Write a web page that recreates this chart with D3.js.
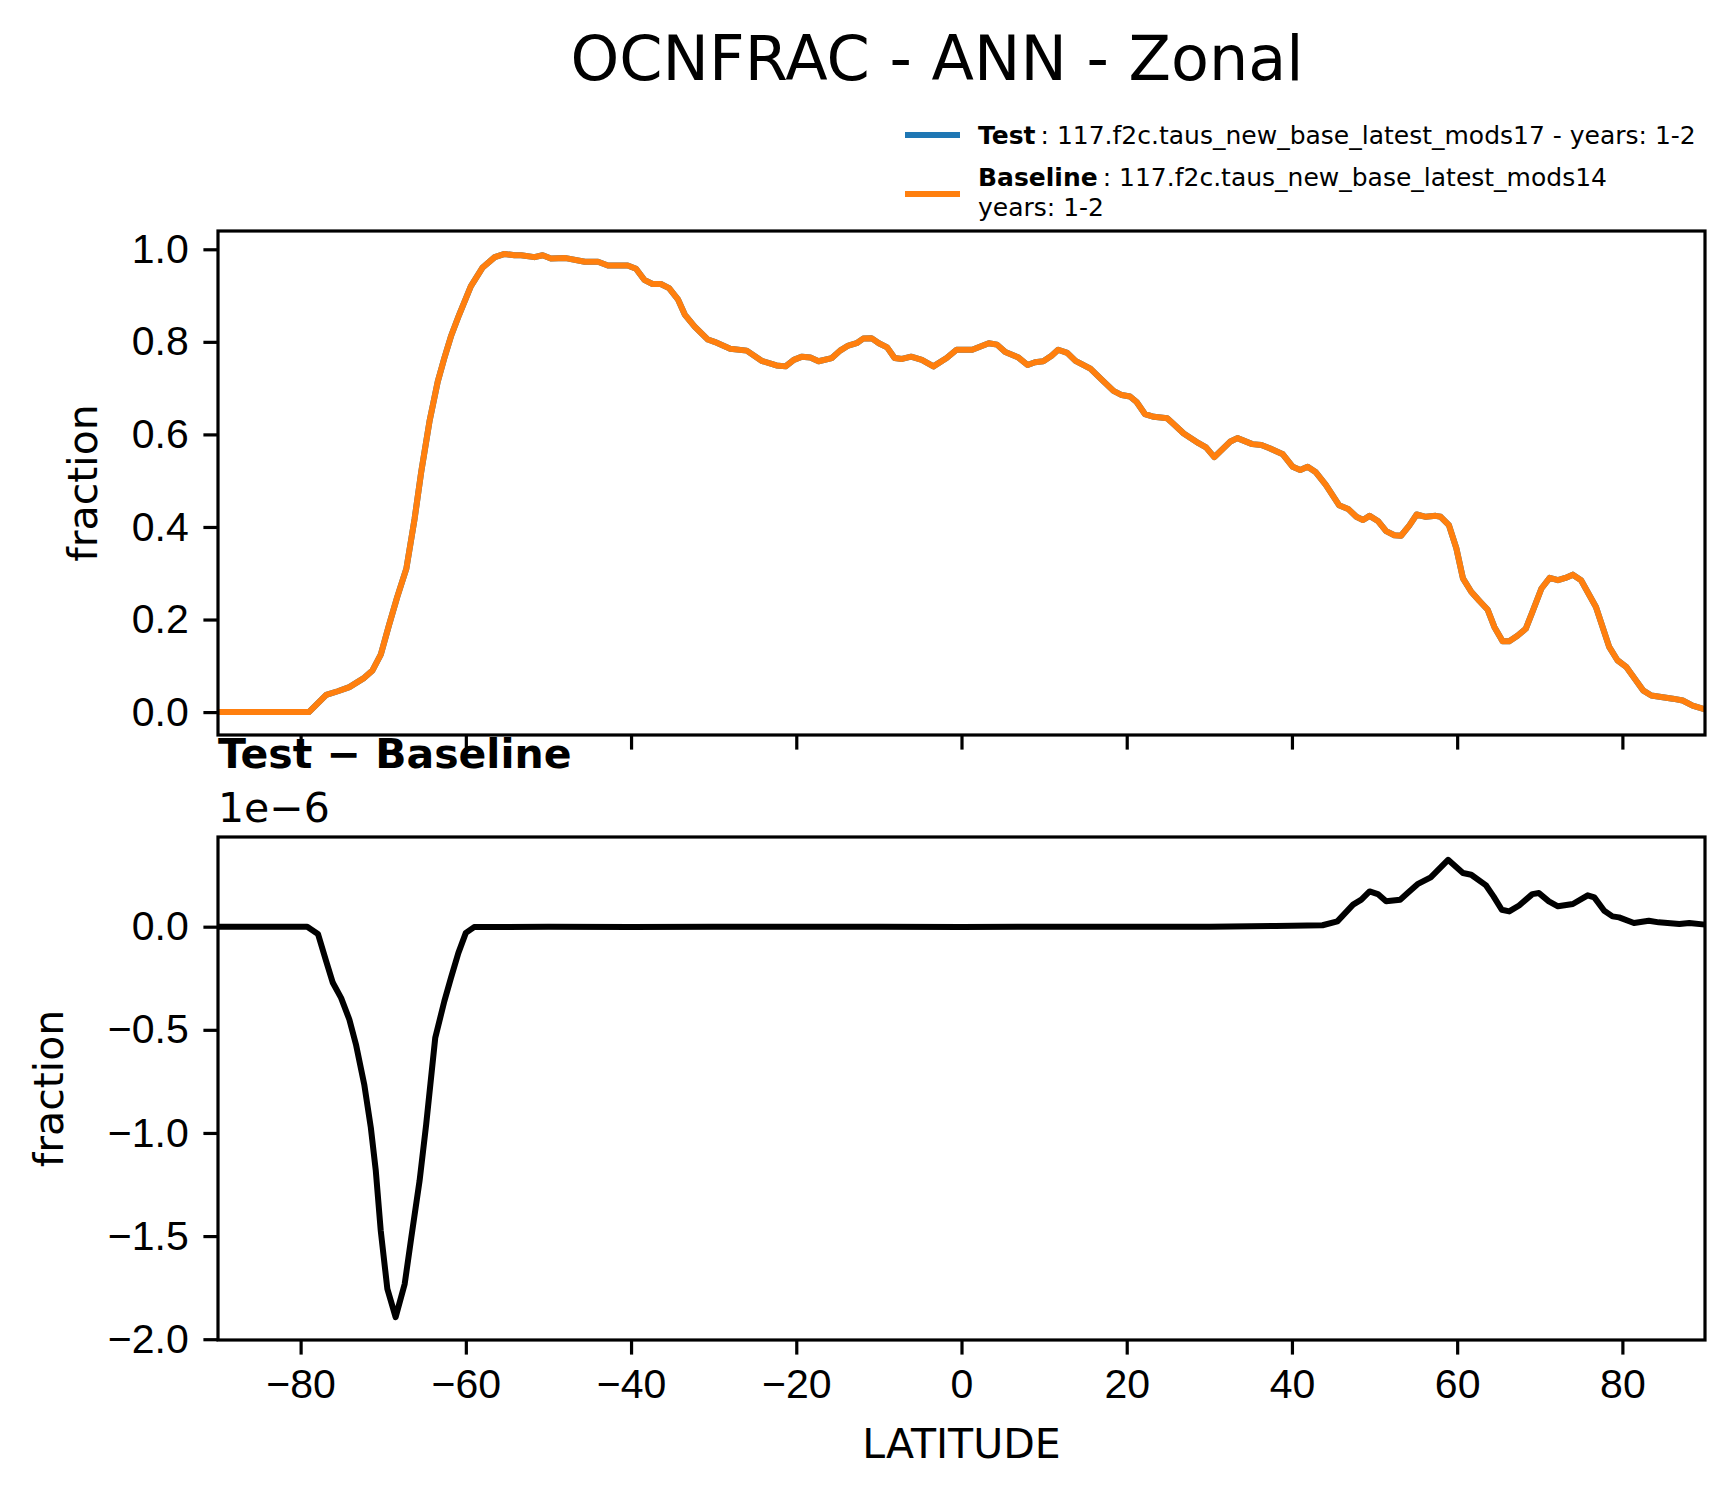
<!DOCTYPE html>
<html>
<head>
<meta charset="UTF-8">
<title>OCNFRAC - ANN - Zonal</title>
<script src="https://cdn.jsdelivr.net/npm/d3@7"></script>
<style>
  body { margin: 0; background: #fff; }
  svg { display: block; font-family: 'DejaVu Sans', sans-serif; }
  .frame { fill: none; stroke: #000; stroke-width: 3.2; }
  .tick line { stroke: #000; stroke-width: 3.2; }
  .tick text { font-size: 41px; fill: #000; }
</style>
</head>
<body>
<svg id="chart" width="1734" height="1496"></svg>
<script>
// zonal mean ocean fraction (test and baseline are the same curve)
const latTop = [-90, -79, -76.9, -75.5, -74.1, -72.3, -71.3, -70.3, -69.3, -68.3, -67.2, -66.2, -65.4, -64.4, -63.4, -62.6, -61.8, -60.8, -59.4, -58.0,
  -56.5, -55.3, -54.1, -53.3, -51.7, -50.7, -49.7, -47.9, -45.6, -44.0, -42.8, -40.4, -39.4, -38.4, -37.4, -36.4, -35.4, -34.3, -33.5, -32.3,
  -30.7, -29.9, -28.0, -26.0, -24.2, -22.4, -21.3, -20.3, -19.3, -18.3, -17.3, -15.7, -14.7, -13.7, -12.7, -11.9, -10.9, -10.0, -9.0, -8.1,
  -7.2, -6.1, -4.8, -3.4, -1.8, -0.6, 1.3, 3.3, 4.3, 5.3, 6.9, 8.0, 8.9, 9.9, 10.9, 11.7, 12.8, 13.8, 15.6, 17.0,
  18.4, 19.4, 20.4, 21.2, 22.2, 23.3, 24.9, 25.7, 26.9, 28.7, 29.6, 30.6, 32.5, 33.4, 35.2, 36.3, 37.3, 38.9, 40.1, 41.0,
  41.9, 42.9, 44.1, 45.7, 46.8, 47.8, 48.6, 49.4, 50.4, 51.4, 52.4, 53.2, 54.2, 55.1, 56.2, 57.4, 58.0, 59.0, 59.9, 60.7,
  61.7, 62.7, 63.7, 64.5, 65.5, 66.3, 67.3, 68.3, 69.1, 70.2, 71.2, 72.2, 73.1, 74.0, 75.0, 76.8, 78.4, 79.4, 80.5, 82.5,
  83.5, 86.1, 87.3, 88.5, 90];
const baselineVals = [0, 0, 0.037, 0.045, 0.054, 0.074, 0.090, 0.124, 0.188, 0.249, 0.310, 0.418, 0.519, 0.628, 0.714, 0.765, 0.812, 0.859, 0.920, 0.960,
  0.983, 0.990, 0.987, 0.987, 0.983, 0.987, 0.980, 0.981, 0.973, 0.973, 0.965, 0.965, 0.958, 0.934, 0.925, 0.925, 0.916, 0.891, 0.859, 0.833,
  0.805, 0.800, 0.785, 0.781, 0.759, 0.749, 0.747, 0.761, 0.768, 0.766, 0.758, 0.765, 0.781, 0.792, 0.797, 0.807, 0.808, 0.797, 0.788, 0.765,
  0.763, 0.768, 0.761, 0.747, 0.765, 0.783, 0.783, 0.797, 0.794, 0.778, 0.766, 0.750, 0.756, 0.758, 0.770, 0.783, 0.776, 0.759, 0.742, 0.718,
  0.694, 0.685, 0.682, 0.670, 0.644, 0.638, 0.635, 0.622, 0.602, 0.581, 0.572, 0.551, 0.584, 0.592, 0.579, 0.577, 0.570, 0.557, 0.530, 0.523,
  0.530, 0.518, 0.491, 0.447, 0.439, 0.422, 0.415, 0.424, 0.413, 0.391, 0.382, 0.381, 0.403, 0.427, 0.422, 0.424, 0.422, 0.404, 0.354, 0.289,
  0.260, 0.240, 0.221, 0.184, 0.153, 0.153, 0.165, 0.180, 0.216, 0.267, 0.290, 0.285, 0.290, 0.297, 0.285, 0.227, 0.141, 0.112, 0.097, 0.047,
  0.036, 0.029, 0.025, 0.014, 0.006];
const testVals = baselineVals.slice();

// test - baseline, in units of 1e-6
const latDiff = [-90, -79.2, -77.9, -76.9, -76.1, -75.1, -74.1, -73.3, -72.3, -71.5, -70.9, -70.3, -69.5, -68.5, -67.4, -66.6, -65.6, -64.8, -63.7, -62.6,
  -61.8, -60.9, -60.0, -59.0, -50, -40, -30, -20, -10, 0, 10, 20, 30, 38, 40, 43.7, 45.5, 47.4, 48.4, 49.4,
  50.4, 51.4, 53.1, 54.0, 55.2, 56.8, 58.9, 60.7, 61.7, 63.5, 64.4, 65.4, 66.3, 67.5, 69.1, 69.9, 71.1, 72.2, 74.0, 75.8,
  76.6, 77.8, 78.8, 79.6, 81.4, 83.2, 84.4, 86.9, 88.1, 90];
const diffVals = [0, 0, -0.035, -0.168, -0.272, -0.345, -0.450, -0.571, -0.764, -0.974, -1.183, -1.474, -1.756, -1.893, -1.732, -1.506, -1.232, -0.958, -0.538, -0.361,
  -0.248, -0.127, -0.030, -0.002, 0.000, -0.001, 0.000, 0.000, 0.000, -0.001, 0.000, 0.000, 0.000, 0.003, 0.004, 0.007, 0.026, 0.107, 0.131, 0.171,
  0.158, 0.123, 0.131, 0.163, 0.206, 0.239, 0.324, 0.260, 0.252, 0.200, 0.147, 0.082, 0.074, 0.103, 0.158, 0.163, 0.123, 0.099, 0.110, 0.152,
  0.142, 0.077, 0.050, 0.045, 0.018, 0.029, 0.021, 0.013, 0.018, 0.010];

const xTicks = [-80, -60, -40, -20, 0, 20, 40, 60, 80];
const topTicks = [0, 0.2, 0.4, 0.6, 0.8, 1.0];
const diffTicks = [-2.0, -1.5, -1.0, -0.5, 0.0];

const svg = d3.select("#chart");
const left = 218, right = 1705;
const topBox = { y0: 231, y1: 735 };
const botBox = { y0: 837, y1: 1340 };
const tickLen = 14.6, tickPad = 14.6;

// matplotlib style 5% margins
function padded(vals) {
  const lo = d3.min(vals), hi = d3.max(vals), m = (hi - lo) * 0.05;
  return [lo - m, hi + m];
}

const x = d3.scaleLinear().domain([-90, 90]).range([left, right]);
const yTop = d3.scaleLinear().domain(padded(baselineVals.concat(testVals))).range([topBox.y1, topBox.y0]);
const yBot = d3.scaleLinear().domain(padded(diffVals)).range([botBox.y1, botBox.y0]);

function drawPanel(box, y, ticks, showXLabels) {
  const gx = svg.append("g").attr("transform", `translate(0,${box.y1})`)
    .call(d3.axisBottom(x).tickValues(xTicks).tickSize(tickLen).tickPadding(tickPad)
      .tickFormat(showXLabels ? d3.format("d") : ""));
  gx.select(".domain").remove();
  const gy = svg.append("g").attr("transform", `translate(${left},0)`)
    .call(d3.axisLeft(y).tickValues(ticks).tickSize(tickLen).tickPadding(tickPad).tickFormat(d3.format(".1f")));
  gy.select(".domain").remove();
}

drawPanel(topBox, yTop, topTicks, false);
drawPanel(botBox, yBot, diffTicks, true);

const lineTop = d3.line().x((d, i) => x(latTop[i])).y(d => yTop(d));
const lineDiff = d3.line().x((d, i) => x(latDiff[i])).y(d => yBot(d));

svg.append("path").datum(testVals).attr("d", lineTop)
  .attr("fill", "none").attr("stroke", "#1f77b4").attr("stroke-width", 6).attr("stroke-linejoin", "round");
svg.append("path").datum(baselineVals).attr("d", lineTop)
  .attr("fill", "none").attr("stroke", "#ff7f0e").attr("stroke-width", 6).attr("stroke-linejoin", "round");
svg.append("path").datum(diffVals).attr("d", lineDiff)
  .attr("fill", "none").attr("stroke", "#000").attr("stroke-width", 6).attr("stroke-linejoin", "round");

[topBox, botBox].forEach(b => {
  svg.append("rect").attr("class", "frame")
    .attr("x", left).attr("y", b.y0).attr("width", right - left).attr("height", b.y1 - b.y0);
});

// title
svg.append("text").attr("x", 937).attr("y", 80).attr("text-anchor", "middle")
  .style("font-size", "62px").text("OCNFRAC - ANN - Zonal");

// axis labels
svg.append("text").attr("transform", `translate(97,${(topBox.y0 + topBox.y1) / 2}) rotate(-90)`)
  .attr("text-anchor", "middle").style("font-size", "41px").text("fraction");
svg.append("text").attr("transform", `translate(63,${(botBox.y0 + botBox.y1) / 2}) rotate(-90)`)
  .attr("text-anchor", "middle").style("font-size", "41px").text("fraction");
svg.append("text").attr("x", (left + right) / 2).attr("y", 1458).attr("text-anchor", "middle")
  .style("font-size", "41px").text("LATITUDE");

// difference panel title and offset text
svg.append("text").attr("x", left).attr("y", 768).style("font-size", "41px").style("font-weight", "bold")
  .text("Test \u2212 Baseline");
svg.append("text").attr("x", left).attr("y", 822).style("font-size", "41px").text("1e\u22126");

// legend
const legend = svg.append("g").style("font-size", "25px");
legend.append("line").attr("x1", 905).attr("x2", 960).attr("y1", 135).attr("y2", 135)
  .attr("stroke", "#1f77b4").attr("stroke-width", 6);
legend.append("line").attr("x1", 905).attr("x2", 960).attr("y1", 194).attr("y2", 194)
  .attr("stroke", "#ff7f0e").attr("stroke-width", 6);
const t1 = legend.append("text").attr("x", 978).attr("y", 144);
t1.append("tspan").style("font-weight", "bold").text("Test");
t1.append("tspan").attr("dx", 5).text(": 117.f2c.taus_new_base_latest_mods17 - years: 1-2");
const t2 = legend.append("text").attr("x", 978).attr("y", 186);
t2.append("tspan").style("font-weight", "bold").text("Baseline");
t2.append("tspan").attr("dx", 5).text(": 117.f2c.taus_new_base_latest_mods14");
legend.append("text").attr("x", 978).attr("y", 216).text("years: 1-2");
</script>
</body>
</html>
